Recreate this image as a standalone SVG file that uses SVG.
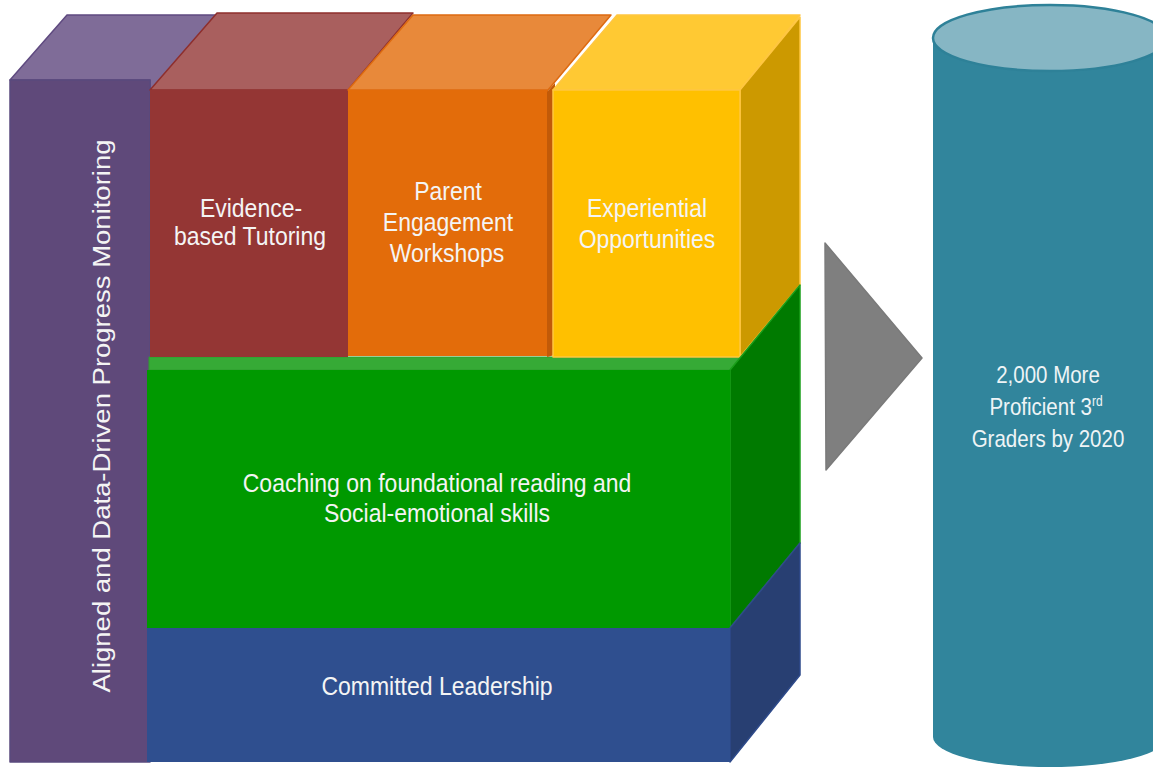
<svg xmlns="http://www.w3.org/2000/svg" width="1153" height="769" viewBox="0 0 1153 769">
<style>
  .lbl { font-family: "Liberation Sans", Arial, sans-serif; font-size: 23px; fill: #F4F4F4; text-anchor: middle; }
  .cyl { font-family: "Liberation Sans", Arial, sans-serif; font-size: 20.5px; fill: #EEF4F6; text-anchor: middle; }
  .edge { stroke-width: 1.5; stroke-linejoin: round; }
</style>
<rect width="1153" height="769" fill="#FFFFFF"/>

<g id="node-monitoring">
  <polygon class="edge" points="10,80 67,15 220,15 150,92 150,80" fill="#7F6C98" stroke="#5F4A80"/>
  <rect class="edge" x="10" y="80" width="140" height="682" fill="#5F497A" stroke="#5A4A7E"/>
  <text class="lbl" transform="translate(110,416) rotate(-90)" x="0" y="0" font-size="28" textLength="553" lengthAdjust="spacingAndGlyphs">Aligned and Data-Driven Progress Monitoring</text>
</g>

<g id="node-coaching-top">
  <polygon points="149,370 149,357 740,357 800,285 730,370" fill="#36AA36" stroke="#2E9E2E" stroke-width="1"/>
</g>

<g id="node-tutoring">
  <polygon class="edge" points="150,90 217,13 413,13 348,90" fill="#A95F5E" stroke="#8E2F2D"/>
  <rect x="150" y="90" width="198" height="267" fill="#943634"/>
  <text class="lbl" transform="translate(251,217) scale(1,1.15)">Evidence-</text>
  <text class="lbl" transform="translate(250,245) scale(1,1.15)">based Tutoring</text>
</g>

<g id="node-parent">
  <polygon class="edge" points="348,90 413,15 611,15 548,90" fill="#E8893A" stroke="#DD6A10"/>
  <rect x="348" y="90" width="200" height="266" fill="#E36C0A"/>
  <polygon points="547,92 555,83 555,355 547,357" fill="#C25A08"/>
  <text class="lbl" transform="translate(448,200) scale(1,1.15)">Parent</text>
  <text class="lbl" transform="translate(448,231) scale(1,1.15)">Engagement</text>
  <text class="lbl" transform="translate(447,262) scale(1,1.15)">Workshops</text>
</g>

<g id="node-experiential">
  <polygon class="edge" points="553,90 617,15 800,15 740,90" fill="#FFC933" stroke="#FFC640"/>
  <polygon class="edge" points="740,90 800,17 800,285 740,357" fill="#CC9900" stroke="#FFC640"/>
  <rect class="edge" x="553" y="90" width="187" height="267" fill="#FFC000" stroke="#FFC640"/>
  <text class="lbl" transform="translate(647,217) scale(1,1.15)">Experiential</text>
  <text class="lbl" transform="translate(647,248) scale(1,1.15)">Opportunities</text>
</g>

<g id="node-coaching">
  <polygon class="edge" points="730,370 800,285 800,543 730,628" fill="#007A00" stroke="#1A9E1A"/>
  <rect x="147" y="370" width="583" height="258" fill="#009900"/>
  <text class="lbl" transform="translate(437,492) scale(1,1.15)">Coaching on foundational reading and</text>
  <text class="lbl" transform="translate(437,522) scale(1,1.15)">Social-emotional skills</text>
</g>

<g id="node-leadership">
  <polygon class="edge" points="730,628 800,543 800,675 730,762" fill="#283F72" stroke="#2E4A8A"/>
  <rect x="147" y="628" width="583" height="134" fill="#2F4F8F"/>
  <text class="lbl" transform="translate(437,695) scale(1,1.15)">Committed Leadership</text>
</g>

<g id="connectors">
  <polygon points="825,243 922,358 826,470" fill="#7F7F7F" stroke="#7A7A7A" stroke-width="1.5" stroke-linejoin="round"/>
</g>

<g id="node-outcome">
  <path d="M933,38 L933,737 A117,30 0 0 0 1167,737 L1167,38 Z" fill="#31859C"/>
  <ellipse cx="1050" cy="38" rx="117" ry="33" fill="#86B6C4" stroke="#2E8198" stroke-width="2.5"/>
  <text class="cyl" transform="translate(1048,383) scale(1,1.15)">2,000 More</text>
  <text class="cyl" transform="translate(1046,415) scale(1,1.15)">Proficient 3<tspan font-size="12" dy="-8">rd</tspan></text>
  <text class="cyl" transform="translate(1048,447) scale(1,1.15)">Graders by 2020</text>
</g>
</svg>
